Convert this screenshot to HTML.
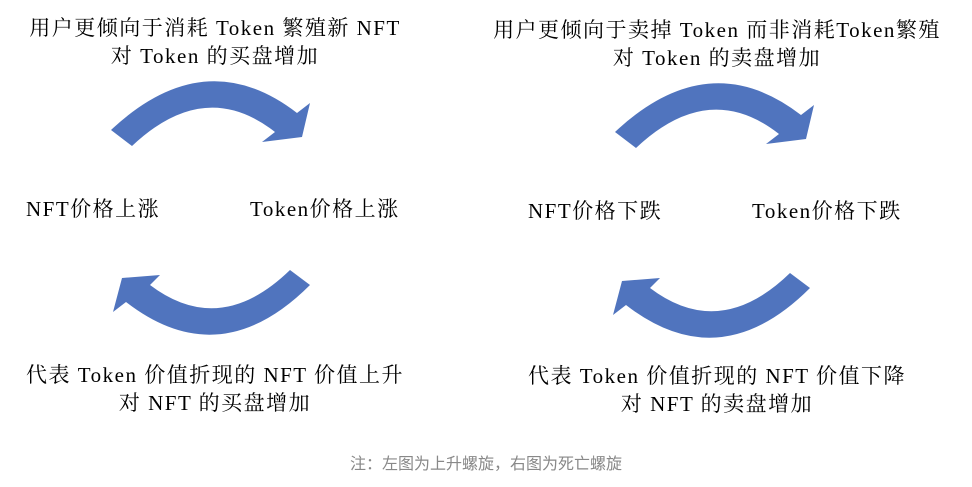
<!DOCTYPE html>
<html><head><meta charset="utf-8"><style>
html,body{margin:0;padding:0;background:#fff}
body{width:972px;height:487px;position:relative;overflow:hidden}
.t{position:absolute;font-family:"Liberation Serif","Noto Serif CJK SC",serif;font-size:21px;letter-spacing:1.5px;color:#000;white-space:nowrap;line-height:1}
.c{transform:translateX(-50%)}
.n{position:absolute;left:486px;top:450px;transform:translateX(-50%);font-family:"Liberation Sans","Noto Sans CJK SC",sans-serif;font-size:16px;color:#888;white-space:nowrap}
</style></head><body>
<svg width="972" height="487" style="position:absolute;left:0;top:0">
<g fill="#5074be">
<path id="a1" d="M111,130 Q205,42 297,113 L310,103 L302,137 L262,142 L275,132 Q205,77 132,146 Z"/>
<path id="a2" d="M290,270 Q220,338 150,285 L160,275 L122,278 L113,312 L126,302 Q220,375 310,285 Z"/>
<use href="#a1" transform="translate(504,2)"/>
<use href="#a2" transform="translate(500,3)"/>
</g>
</svg>
<div class="t c" style="left:215px;top:18px">用户更倾向于消耗 Token 繁殖新 NFT</div>
<div class="t c" style="left:215px;top:46px">对 Token 的买盘增加</div>
<div class="t" style="left:26px;top:199px">NFT价格上涨</div>
<div class="t" style="left:250px;top:199px">Token价格上涨</div>
<div class="t c" style="left:215px;top:365px">代表 Token 价值折现的 NFT 价值上升</div>
<div class="t c" style="left:215px;top:393px">对 NFT 的买盘增加</div>
<div class="t c" style="left:717px;top:20px">用户更倾向于卖掉 Token 而非消耗Token繁殖</div>
<div class="t c" style="left:717px;top:48px">对 Token 的卖盘增加</div>
<div class="t" style="left:528px;top:201px">NFT价格下跌</div>
<div class="t" style="left:752px;top:201px">Token价格下跌</div>
<div class="t c" style="left:717px;top:366px">代表 Token 价值折现的 NFT 价值下降</div>
<div class="t c" style="left:717px;top:394px">对 NFT 的卖盘增加</div>
<div class="n">注：左图为上升螺旋，右图为死亡螺旋</div>
</body></html>
